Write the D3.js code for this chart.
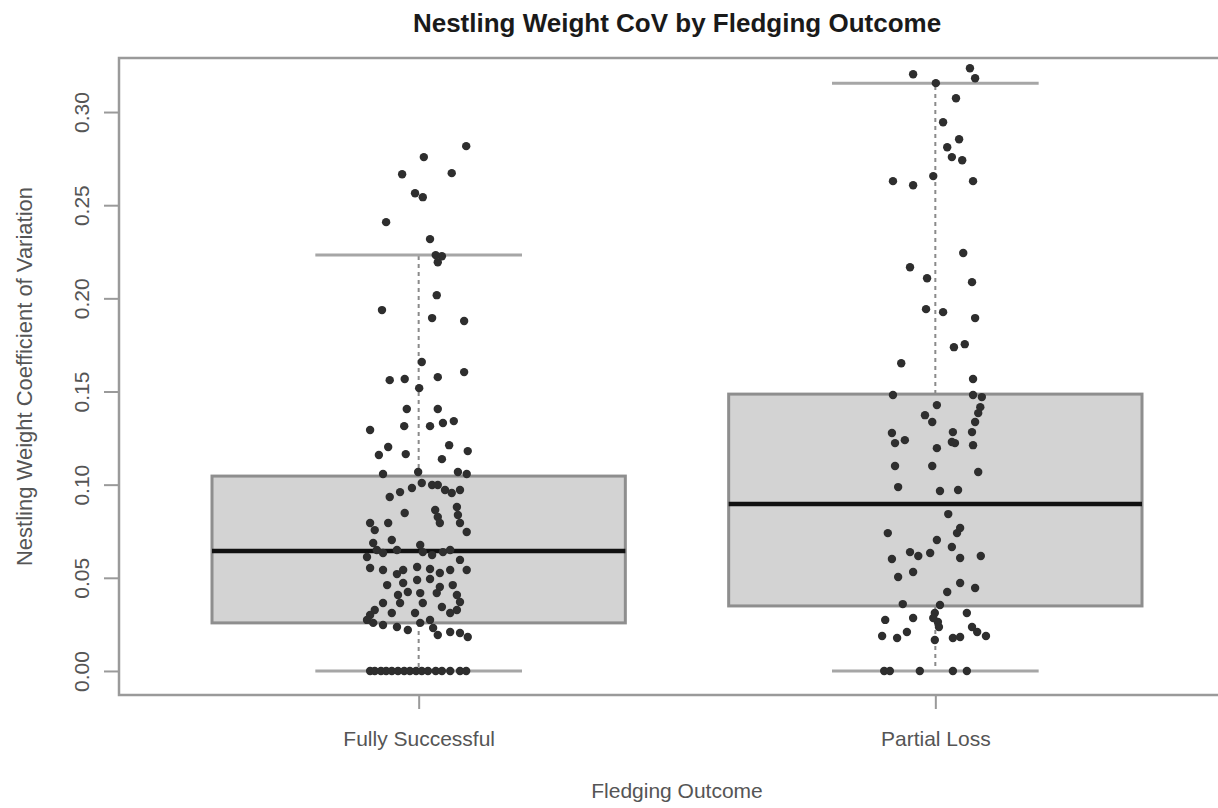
<!DOCTYPE html>
<html>
<head>
<meta charset="utf-8">
<script src="https://cdn.jsdelivr.net/npm/d3@7"></script>
<style>
  body { margin: 0; background: #fff; }
  svg { display: block; font-family: "Liberation Sans", Arial, sans-serif; }
</style>
</head>
<body>
<svg id="chart" width="1218" height="808"></svg>
<script>
// Fledging outcome groups and y-axis ticks
const categories = ["Fully Successful", "Partial Loss"];
const yTicks = [0, 0.05, 0.10, 0.15, 0.20, 0.25, 0.30];

// Box summary per group
const lowerWhisker = [0, 0];
const q1 = [0.0258, 0.0349];
const median = [0.0644, 0.0896];
const q3 = [0.1046, 0.1486];
const upperWhisker = [0.2232, 0.3155];

// Nestling weight CoV per brood, Fully Successful
const fullyValues = [
  0.2817,0.2758,0.2666,0.2672,0.2564,0.2543,0.2409,0.2318,0.2232,0.2226,
  0.2194,0.2017,0.1937,0.1894,0.1878,0.1658,0.1561,0.1567,0.1577,0.1604,
  0.1518,0.1406,0.1406,0.1293,0.1314,0.1314,0.1331,0.1341,0.1202,0.1159,
  0.1164,0.1212,0.1180,0.1137,0.1057,0.1068,0.1057,0.1068,
  0.0934,0.0960,0.0982,0.1009,0.0998,0.0998,0.0971,0.0955,0.0971,
  0.0848,0.0864,0.0826,0.0794,0.0880,0.0837,0.0794,0.0746,0.0794,0.0756,0.0794,
  0.0703,0.0687,0.0649,0.0633,0.0649,0.0676,0.0638,0.0622,0.0638,0.0649,
  0.0612,0.0596,0.0542,0.0553,0.0542,0.0542,0.0558,0.0547,0.0526,0.0542,
  0.0520,0.0461,0.0472,0.0488,0.0494,0.0451,0.0461,0.0408,0.0424,0.0418,
  0.0418,0.0408,0.0370,0.0365,0.0365,0.0365,0.0343,0.0327,0.0327,0.0300,
  0.0311,0.0311,0.0274,0.0311,0.0274,0.0258,0.0247,0.0236,0.0220,0.0258,
  0.0231,0.0193,0.0209,0.0204,0.0182,
  0,0,0,0,0,0,0,0,0,0,0,0,0,0,0,0
];
// Horizontal jitter of each point (category units)
const fullyJitter = [
  0.092,0.010,-0.032,0.064,-0.007,0.008,-0.063,0.022,0.033,0.045,
  0.037,0.035,-0.071,0.026,0.088,0.006,-0.056,-0.027,0.037,0.088,
  0.001,-0.023,0.037,-0.094,-0.028,0.022,0.047,0.068,-0.059,-0.077,
  -0.025,0.059,0.095,0.045,-0.069,0.076,0.093,-0.001,
  -0.056,-0.036,-0.013,0.006,0.026,0.037,0.051,0.064,0.080,
  -0.027,0.032,0.037,0.041,0.074,0.076,0.080,0.093,-0.094,-0.085,-0.059,
  -0.052,-0.088,-0.081,-0.069,-0.042,0.003,0.008,0.026,0.047,0.061,
  -0.100,0.080,0.093,-0.094,-0.069,-0.030,-0.003,0.022,0.041,0.061,
  -0.042,-0.061,-0.030,-0.003,0.022,0.041,0.066,-0.040,-0.021,0.003,
  0.035,0.074,0.080,-0.069,-0.036,0.008,0.045,0.074,-0.085,-0.094,
  -0.052,-0.007,0.022,0.061,-0.100,-0.088,-0.069,-0.042,-0.021,0.003,
  0.028,0.037,0.061,0.080,0.095,
  -0.094,-0.085,-0.073,-0.063,-0.052,-0.040,-0.028,-0.017,-0.005,0.006,
  0.018,0.033,0.045,0.061,0.080,0.092
];

// Nestling weight CoV per brood, Partial Loss
const partialValues = [
  0.3203,0.3235,0.3181,0.3155,0.3074,0.2945,0.2854,0.2811,0.2758,0.2741,
  0.2656,0.2629,0.2607,0.2629,0.2243,0.2167,0.2108,0.2087,0.1942,0.1926,
  0.1894,0.1738,0.1754,0.1652,0.1567,0.1481,0.1481,0.1470,0.1427,0.1416,
  0.1384,0.1373,0.1336,0.1336,0.1282,0.1277,0.1239,0.1223,0.1282,0.1229,
  0.1196,0.1212,0.1223,0.1100,0.1100,0.1068,0.0987,0.0966,0.0971,0.0842,
  0.0740,0.0767,0.0740,0.0703,0.0638,0.0617,0.0633,0.0665,0.0606,0.0617,
  0.0601,0.0504,0.0531,0.0424,0.0472,0.0445,0.0359,0.0354,0.0274,0.0284,
  0.0311,0.0263,0.0311,0.0188,0.0177,0.0209,0.0166,0.0177,0.0182,0.0236,
  0.0209,0.0188,0.0284,0.0236,
  0,0,0,0,0
];
const partialJitter = [
  -0.043,0.067,0.077,0.001,0.040,0.015,0.046,0.023,0.032,0.052,
  -0.004,-0.082,-0.043,0.073,0.054,-0.049,-0.016,0.071,-0.018,0.015,
  0.077,0.036,0.057,-0.066,0.073,-0.082,0.073,0.090,0.003,0.087,
  0.083,-0.020,-0.006,0.077,0.071,-0.084,-0.059,-0.078,0.034,0.032,
  0.003,0.073,0.038,-0.078,-0.006,0.083,-0.072,0.009,0.044,0.025,
  -0.092,0.048,0.042,0.003,-0.049,-0.033,-0.010,0.032,0.048,0.088,
  -0.084,-0.072,-0.043,0.023,0.048,0.077,-0.063,0.009,-0.097,-0.043,
  -0.001,0.005,0.061,-0.103,-0.074,-0.055,-0.001,0.034,0.048,0.071,
  0.081,0.098,-0.004,0.007,
  -0.099,-0.088,-0.030,0.034,0.061
];

const groupValues = [fullyValues, partialValues];
const groupJitter = [fullyJitter, partialJitter];

// Plot region (right edge runs past the canvas)
const plot = { left: 119, right: 1235, top: 58, bottom: 695 };
const boxHalf = 0.4, stapleHalf = 0.2;

const svg = d3.select("#chart");

const x = d3.scaleLinear().domain([0.42, 2.58]).range([plot.left, plot.right]);
const y = d3.scaleLinear().domain([-0.0129, 0.3290]).range([plot.bottom, plot.top]);

const lineGray = "#9a9a9a";

// Boxes, whiskers and staples
const boxes = svg.append("g");
categories.forEach((c, i) => {
  const cx = i + 1;
  const g = boxes.append("g");
  g.append("line")
    .attr("x1", x(cx)).attr("x2", x(cx))
    .attr("y1", y(q3[i])).attr("y2", y(upperWhisker[i]))
    .attr("stroke", "#8a8a8a").attr("stroke-width", 2).attr("stroke-dasharray", "4,4");
  g.append("line")
    .attr("x1", x(cx)).attr("x2", x(cx))
    .attr("y1", y(q1[i])).attr("y2", y(lowerWhisker[i]))
    .attr("stroke", "#8a8a8a").attr("stroke-width", 2).attr("stroke-dasharray", "4,4");
  [upperWhisker[i], lowerWhisker[i]].forEach(v => {
    g.append("line")
      .attr("x1", x(cx - stapleHalf)).attr("x2", x(cx + stapleHalf))
      .attr("y1", y(v)).attr("y2", y(v))
      .attr("stroke", "#a6a6a6").attr("stroke-width", 3);
  });
  g.append("rect")
    .attr("x", x(cx - boxHalf)).attr("width", x(cx + boxHalf) - x(cx - boxHalf))
    .attr("y", y(q3[i])).attr("height", y(q1[i]) - y(q3[i]))
    .attr("fill", "#d3d3d3").attr("stroke", "#8e8e8e").attr("stroke-width", 3);
  g.append("line")
    .attr("x1", x(cx - boxHalf)).attr("x2", x(cx + boxHalf))
    .attr("y1", y(median[i])).attr("y2", y(median[i]))
    .attr("stroke", "#111").attr("stroke-width", 4.5);
});

// Jittered points
const pts = svg.append("g");
groupValues.forEach((vals, i) => {
  pts.selectAll(null)
    .data(vals.map((v, k) => ({ v, j: groupJitter[i][k] })))
    .join("circle")
    .attr("cx", d => x(i + 1 + d.j))
    .attr("cy", d => y(d.v))
    .attr("r", 4.2)
    .attr("fill", "#2e2e2e");
});

// Frame
svg.append("rect")
  .attr("x", plot.left).attr("y", plot.top)
  .attr("width", plot.right - plot.left).attr("height", plot.bottom - plot.top)
  .attr("fill", "none").attr("stroke", lineGray).attr("stroke-width", 2.5);

// Y axis
const yAxis = svg.append("g")
  .attr("transform", `translate(${plot.left},0)`)
  .call(d3.axisLeft(y).tickValues(yTicks).tickSize(15).tickFormat(d3.format(".2f")));
yAxis.select(".domain").remove();
yAxis.selectAll(".tick line").attr("stroke", lineGray).attr("stroke-width", 2);
yAxis.selectAll(".tick text")
  .attr("transform", "rotate(-90)")
  .attr("x", 0).attr("y", -30).attr("dy", 0)
  .attr("text-anchor", "middle")
  .attr("font-size", 21).attr("fill", "#555")
  .attr("font-family", "Liberation Sans, Arial, sans-serif");

// X axis
const xAxis = svg.append("g")
  .attr("transform", `translate(0,${plot.bottom})`)
  .call(d3.axisBottom(x).tickValues([1, 2]).tickSize(14).tickFormat(d => categories[d - 1]));
xAxis.select(".domain").remove();
xAxis.selectAll(".tick line").attr("stroke", lineGray).attr("stroke-width", 2);
xAxis.selectAll(".tick text")
  .attr("y", 51).attr("dy", 0)
  .attr("font-size", 21).attr("fill", "#555")
  .attr("font-family", "Liberation Sans, Arial, sans-serif");

const midX = (plot.left + plot.right) / 2;
const midY = (plot.top + plot.bottom) / 2;

// Title
svg.append("text")
  .attr("x", midX).attr("y", 32)
  .attr("text-anchor", "middle")
  .attr("font-size", 26).attr("font-weight", "bold").attr("fill", "#1a1a1a")
  .text("Nestling Weight CoV by Fledging Outcome");

// Axis titles
svg.append("text")
  .attr("x", midX).attr("y", 798)
  .attr("text-anchor", "middle")
  .attr("font-size", 21).attr("fill", "#555")
  .text("Fledging Outcome");

svg.append("text")
  .attr("transform", `translate(32,${midY}) rotate(-90)`)
  .attr("text-anchor", "middle")
  .attr("font-size", 22).attr("fill", "#555")
  .text("Nestling Weight Coefficient of Variation");
</script>
</body>
</html>
